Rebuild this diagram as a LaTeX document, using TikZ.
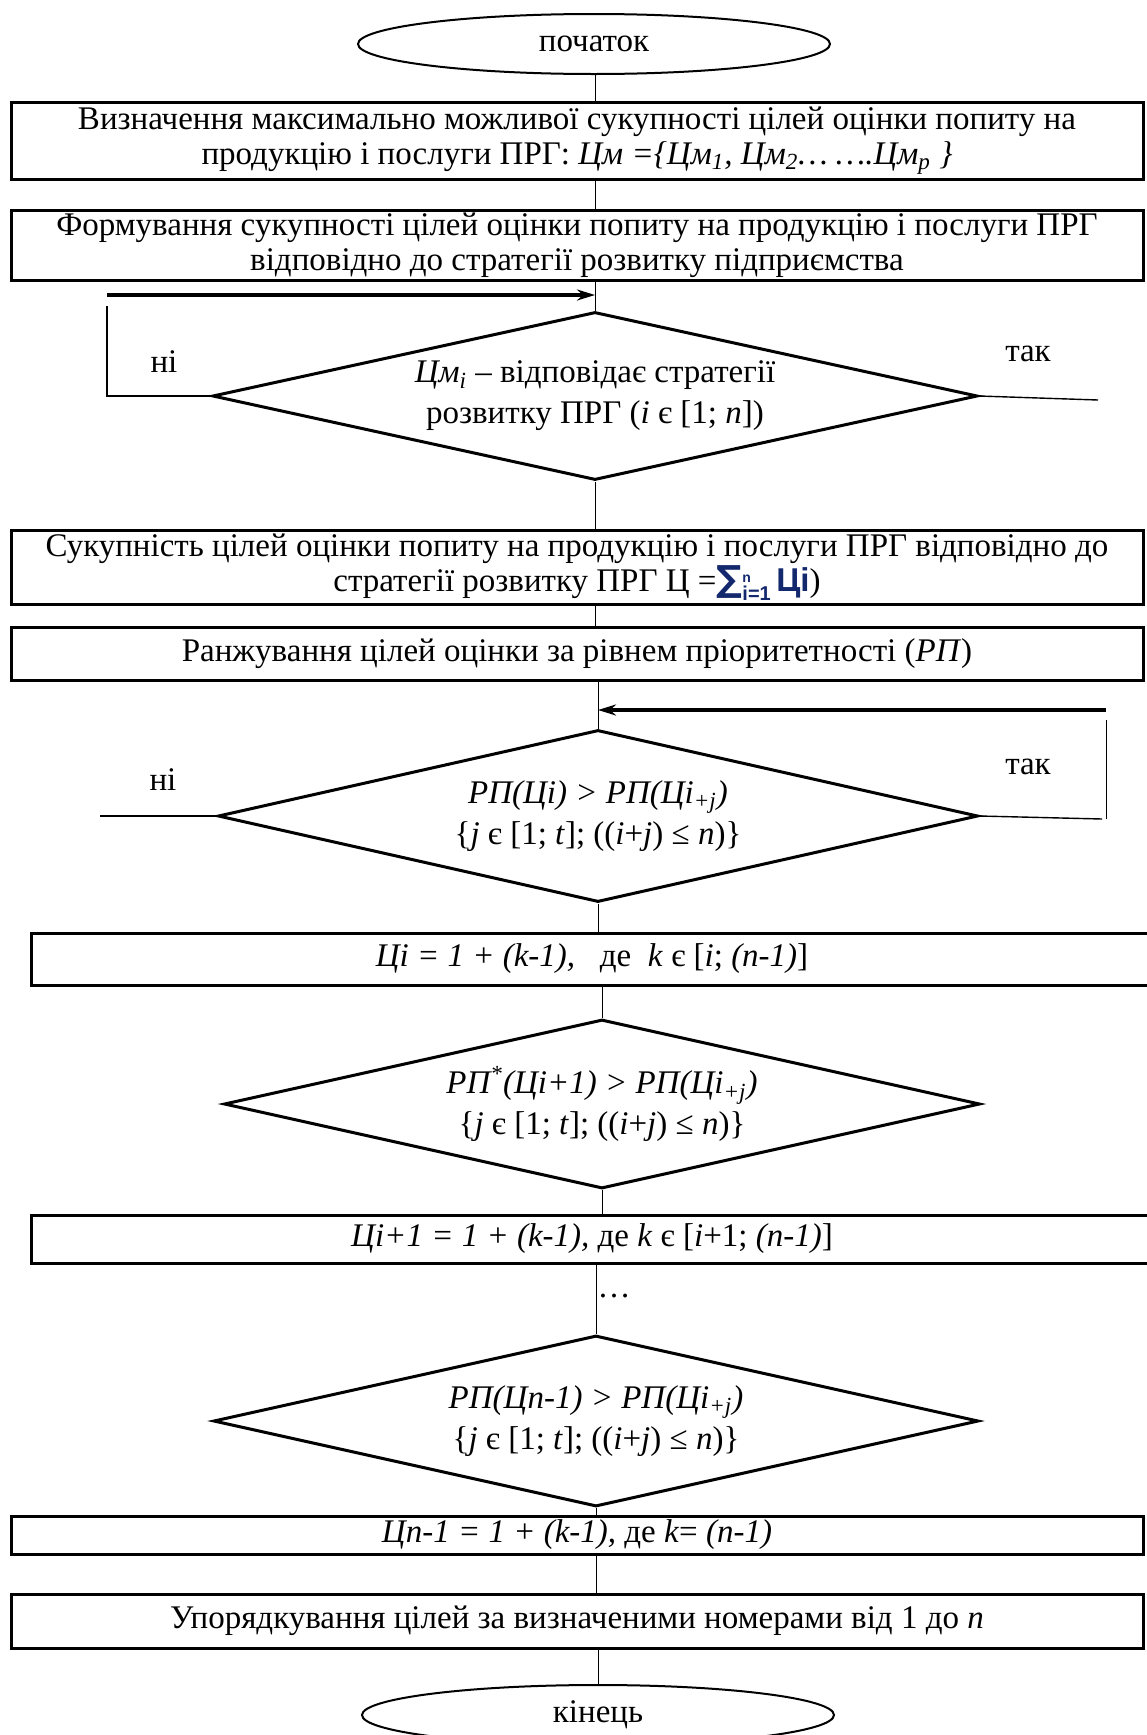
\documentclass[tikz,border=0pt]{standalone}
\usepackage{fontspec}
\setmainfont{Liberation Serif}
\newfontfamily\sumfont{Liberation Sans}
\newfontfamily\sigmafont{DejaVu Sans}
\usetikzlibrary{shapes.geometric,arrows.meta}
\definecolor{sumblue}{RGB}{20,40,110}

\begin{document}
\begin{tikzpicture}[x=0.5pt,y=-0.5pt,
    box/.style={draw,line width=1.5pt,inner sep=0pt,align=center,font=\fontsize{16.5}{17.7}\selectfont},
    cond/.style={draw,diamond,line width=1.5pt,inner sep=0pt,align=center,font=\fontsize{16.5}{20.5}\selectfont},
    term/.style={draw,ellipse,line width=1pt,minimum width=236pt,minimum height=30pt,font=\fontsize{16.5}{18}\selectfont},
    conn/.style={line width=0.5pt},
    back/.style={line width=1.75pt,-{Stealth[length=9pt,width=5.5pt]}},
    lbl/.style={font=\fontsize{16.5}{18}\selectfont}]
    \useasboundingbox (0,0) rectangle (1146,1735);
    \node[term] (start) at (594,44) {початок};
    \node[box,minimum width=566pt,minimum height=38.5pt] (b1) at (577,140.5)
        {Визначення максимально можливої сукупності цілей оцінки попиту на\\
         продукцію і послуги ПРГ: \textit{Цм =\{Цм\textsubscript{1}, Цм\textsubscript{2}… ….Цм\textsubscript{p} \}}};
    \node[box,minimum width=566pt,minimum height=35pt] (b2) at (577,245)
        {Формування сукупності цілей оцінки попиту на продукцію і послуги ПРГ\\
         відповідно до стратегії розвитку підприємства};
    \node[cond,aspect=4.55,minimum width=382.5pt,minimum height=84pt] (d1) at (595,396)
        {\textit{Цм\textsubscript{i}} – відповідає стратегії\\ розвитку ПРГ (\textit{i} є [1; \textit{n}])};
    \node[box,minimum width=566pt,minimum height=37pt] (b3) at (577,567)
        {Сукупність цілей оцінки попиту на продукцію і послуги ПРГ відповідно до\\
         стратегії розвитку ПРГ Ц =\textcolor{sumblue}{{\sigmafont\bfseries\fontsize{18}{18}\selectfont ∑}\raisebox{-0.6ex}{\sumfont\bfseries\fontsize{7}{10}\selectfont\shortstack[l]{n\\[-1pt]{\fontsize{10}{10}\selectfont i=1}}}\,{\sumfont\bfseries Цi}})};
    \node[box,minimum width=566pt,minimum height=26.5pt] (b4) at (577,653.5)
        {Ранжування цілей оцінки за рівнем пріоритетності (\textit{РП})};
    \node[cond,aspect=4.42,minimum width=380pt,minimum height=86pt] (d2) at (598,816)
        {\textit{РП(Цi) > РП(Цi\textsubscript{+j})}\\
         \{\textit{j} є [1; \textit{t}]; ((\textit{i}+\textit{j}) ≤ \textit{n})\}};
    \node[box,minimum width=561pt,minimum height=26pt] (b5) at (592,959)
        {\textit{Цi = 1 + (k-1),}~~ де~ \textit{k} є [\textit{i}; \textit{(n-1)}]};
    \node[cond,aspect=4.47,minimum width=378pt,minimum height=84.5pt] (d3) at (602,1104)
        {\textit{РП\textsuperscript{*}(Цi+1) > РП(Цi\textsubscript{+j})}\\
         \{\textit{j} є [1; \textit{t}]; ((\textit{i}+\textit{j}) ≤ \textit{n})\}};
    \node[box,minimum width=561pt,minimum height=24pt] (b6) at (592,1239)
        {\textit{Цi+1 = 1 + (k-1),} де \textit{k} є [\textit{i}+1; \textit{(n-1)}]};
    \node[cond,aspect=4.47,minimum width=382.5pt,minimum height=85.5pt] (d4) at (596,1421)
        {\textit{РП(Цn-1) > РП(Цi\textsubscript{+j})}\\
         \{\textit{j} є [1; \textit{t}]; ((\textit{i}+\textit{j}) ≤ \textit{n})\}};
    \node[box,minimum width=566pt,minimum height=19pt] (b7) at (577,1535)
        {\textit{Цn-1 = 1 + (k-1),} де \textit{k}= \textit{(n-1)}};
    \node[box,minimum width=566pt,minimum height=27pt] (b8) at (577,1621)
        {Упорядкування цілей за визначеними номерами від 1 до \textit{n}};
    \node[term] (stop) at (598,1715) {кінець};
    \node[lbl] (dots) at (614,1296) {…};
    \node[lbl] (no1) at (164,362) {ні};
    \node[lbl] (yes1) at (1028,354) {так};
    \node[lbl] (no2) at (163,780) {ні};
    \node[lbl] (yes2) at (1028,767) {так};
    \coordinate (l1) at (107,306);
    \coordinate (r1) at (1098,400);
    \coordinate (a1) at (107,295);
    \coordinate (l2) at (100,816);
    \coordinate (r2) at (1102,819);
    \coordinate (u2) at (1106,720);
    \coordinate (a2) at (1106,710);
    \draw[conn] (start.south -| d1.north) -- (b1.north -| d1.north);
    \draw[conn] (b1.south -| d1.north) -- (b2.north -| d1.north);
    \draw[conn] (b2.south -| d1.north) -- (d1.north);
    \draw[conn] (d1.south) -- (d1.south |- b3.north);
    \draw[conn] (b3.south -| d1.north) -- (b4.north -| d1.north);
    \draw[conn] (b4.south -| d2.north) -- (d2.north);
    \draw[conn] (d2.south) -- (d2.south |- b5.north);
    \draw[conn] (b5.south -| d3.north) -- (d3.north);
    \draw[conn] (d3.south) -- (d3.south |- b6.north);
    \draw[conn] (b6.south -| d4.north) -- (d4.north);
    \draw[conn] (d4.south) -- (d4.south |- b7.north);
    \draw[conn] (b7.south -| d4.north) -- (b8.north -| d4.north);
    \draw[conn] (b8.south -| stop.north) -- (stop.north);
    % loops
    \draw[conn,line width=0.7pt] (d1.west) -| (l1);
    \draw[back] (a1) -- (a1 -| d1.north);
    \draw[conn,line width=0.7pt] (d1.east) -- (r1);
    \draw[conn,line width=0.7pt] (l2) -- (d2.west);
    \draw[conn,line width=0.7pt] (d2.east) -- (r2);
    \draw[conn] (r2 -| u2) -- (u2);
    \draw[back] (a2) -- (a2 -| d2.north);
\end{tikzpicture}
\end{document}
